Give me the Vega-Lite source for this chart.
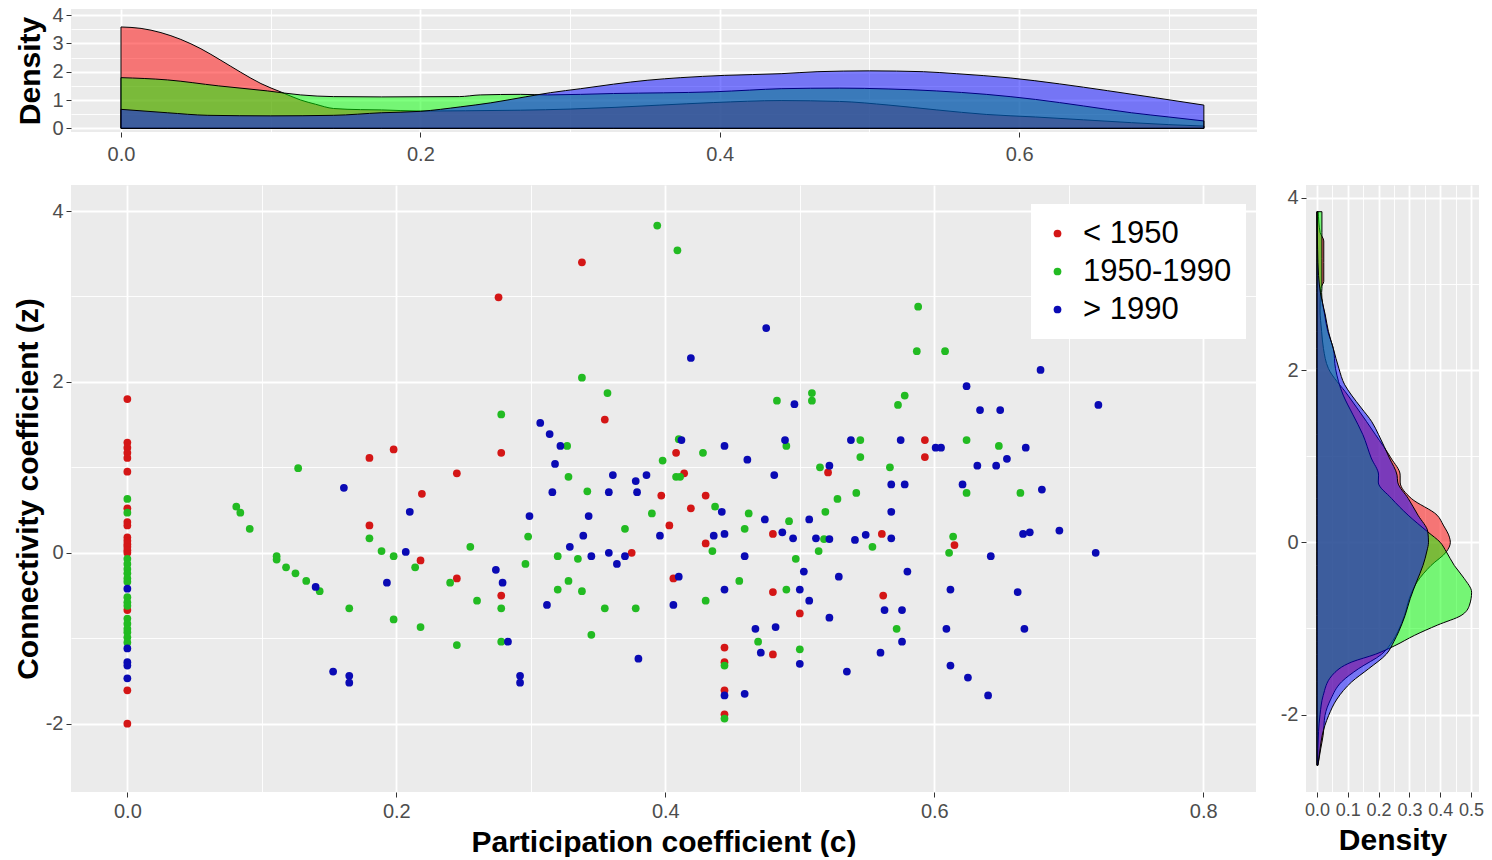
{
  "$schema": "https://vega.github.io/schema/vega-lite/v6.json",
  "background": "white",
  "padding": {"left": 13, "top": 5, "right": 5, "bottom": 0},
  "columns": 2,
  "spacing": {"row": 21, "column": 23},
  "config": {
    "font": "Liberation Sans",
    "view": {"fill": "#EBEBEB", "stroke": null},
    "axis": {
      "domain": false, "grid": true, "gridColor": "#FFFFFF",
      "tickColor": "#333333", "tickSize": 5, "tickWidth": 1,
      "labelColor": "#4D4D4D", "labelFontSize": 20, "labelFont": "Liberation Sans",
      "labelOverlap": false, "labelFlush": false,
      "titleFont": "Liberation Sans", "titleFontSize": 30, "titleFontWeight": "bold", "titleColor": "#000000"
    },
    "legend": {
      "orient": "none", "legendX": 960, "legendY": 195,
      "fillColor": "#FFFFFF", "padding": 14,
      "labelFontSize": 31, "labelColor": "#000000", "labelFont": "Liberation Sans",
      "symbolType": "circle", "symbolSize": 60, "symbolStrokeWidth": 0,
      "rowPadding": 6, "labelOffset": 10, "symbolOffset": -3
    }
  },
  "datasets": {
    "pts": [
      {"p":0,"z":1.80,"g":"< 1950"},{"p":0,"z":1.29,"g":"< 1950"},{"p":0,"z":1.23,"g":"< 1950"},{"p":0,"z":1.17,"g":"< 1950"},{"p":0,"z":1.11,"g":"< 1950"},{"p":0,"z":0.95,"g":"< 1950"},{"p":0,"z":0.52,"g":"< 1950"},{"p":0,"z":0.36,"g":"< 1950"},{"p":0,"z":0.32,"g":"< 1950"},{"p":0,"z":0.18,"g":"< 1950"},{"p":0,"z":0.14,"g":"< 1950"},{"p":0,"z":0.10,"g":"< 1950"},{"p":0,"z":0.07,"g":"< 1950"},{"p":0,"z":0.03,"g":"< 1950"},{"p":0,"z":0.00,"g":"< 1950"},{"p":0,"z":-0.67,"g":"< 1950"},{"p":0,"z":-1.61,"g":"< 1950"},{"p":0,"z":-2.00,"g":"< 1950"},
      {"p":0.180,"z":1.11,"g":"< 1950"},{"p":0.198,"z":1.21,"g":"< 1950"},{"p":0.180,"z":0.32,"g":"< 1950"},{"p":0.219,"z":0.69,"g":"< 1950"},{"p":0.218,"z":-0.09,"g":"< 1950"},{"p":0.338,"z":3.40,"g":"< 1950"},{"p":0.276,"z":2.99,"g":"< 1950"},{"p":0.355,"z":1.56,"g":"< 1950"},{"p":0.278,"z":1.17,"g":"< 1950"},{"p":0.245,"z":0.93,"g":"< 1950"},{"p":0.408,"z":1.17,"g":"< 1950"},{"p":0.414,"z":0.93,"g":"< 1950"},{"p":0.397,"z":0.67,"g":"< 1950"},{"p":0.430,"z":0.67,"g":"< 1950"},{"p":0.419,"z":0.52,"g":"< 1950"},{"p":0.403,"z":0.32,"g":"< 1950"},{"p":0.480,"z":0.22,"g":"< 1950"},{"p":0.430,"z":0.11,"g":"< 1950"},{"p":0.375,"z":0.00,"g":"< 1950"},{"p":0.278,"z":-0.50,"g":"< 1950"},{"p":0.245,"z":-0.30,"g":"< 1950"},{"p":0.406,"z":-0.30,"g":"< 1950"},{"p":0.480,"z":-0.46,"g":"< 1950"},{"p":0.500,"z":-0.71,"g":"< 1950"},{"p":0.480,"z":-1.19,"g":"< 1950"},{"p":0.444,"z":-1.11,"g":"< 1950"},{"p":0.444,"z":-1.28,"g":"< 1950"},{"p":0.444,"z":-1.61,"g":"< 1950"},{"p":0.444,"z":-1.89,"g":"< 1950"},{"p":0.593,"z":1.32,"g":"< 1950"},{"p":0.593,"z":1.12,"g":"< 1950"},{"p":0.521,"z":0.94,"g":"< 1950"},{"p":0.561,"z":0.22,"g":"< 1950"},{"p":0.615,"z":0.09,"g":"< 1950"},{"p":0.562,"z":-0.50,"g":"< 1950"},
      {"p":0,"z":0.63,"g":"1950-1990"},{"p":0,"z":0.47,"g":"1950-1990"},{"p":0,"z":-0.07,"g":"1950-1990"},{"p":0,"z":-0.13,"g":"1950-1990"},{"p":0,"z":-0.19,"g":"1950-1990"},{"p":0,"z":-0.24,"g":"1950-1990"},{"p":0,"z":-0.30,"g":"1950-1990"},{"p":0,"z":-0.34,"g":"1950-1990"},{"p":0,"z":-0.52,"g":"1950-1990"},{"p":0,"z":-0.58,"g":"1950-1990"},{"p":0,"z":-0.62,"g":"1950-1990"},{"p":0,"z":-0.77,"g":"1950-1990"},{"p":0,"z":-0.83,"g":"1950-1990"},{"p":0,"z":-0.89,"g":"1950-1990"},{"p":0,"z":-0.93,"g":"1950-1990"},{"p":0,"z":-0.99,"g":"1950-1990"},{"p":0,"z":-1.05,"g":"1950-1990"},
      {"p":0.081,"z":0.54,"g":"1950-1990"},{"p":0.084,"z":0.47,"g":"1950-1990"},{"p":0.091,"z":0.28,"g":"1950-1990"},{"p":0.127,"z":0.99,"g":"1950-1990"},{"p":0.180,"z":0.17,"g":"1950-1990"},{"p":0.189,"z":0.02,"g":"1950-1990"},{"p":0.198,"z":-0.04,"g":"1950-1990"},{"p":0.111,"z":-0.04,"g":"1950-1990"},{"p":0.111,"z":-0.08,"g":"1950-1990"},{"p":0.118,"z":-0.17,"g":"1950-1990"},{"p":0.125,"z":-0.24,"g":"1950-1990"},{"p":0.133,"z":-0.33,"g":"1950-1990"},{"p":0.143,"z":-0.45,"g":"1950-1990"},{"p":0.165,"z":-0.65,"g":"1950-1990"},{"p":0.198,"z":-0.78,"g":"1950-1990"},{"p":0.218,"z":-0.87,"g":"1950-1990"},{"p":0.214,"z":-0.17,"g":"1950-1990"},
      {"p":0.394,"z":3.83,"g":"1950-1990"},{"p":0.409,"z":3.54,"g":"1950-1990"},{"p":0.338,"z":2.05,"g":"1950-1990"},{"p":0.357,"z":1.87,"g":"1950-1990"},{"p":0.483,"z":1.78,"g":"1950-1990"},{"p":0.509,"z":1.87,"g":"1950-1990"},{"p":0.509,"z":1.78,"g":"1950-1990"},{"p":0.278,"z":1.62,"g":"1950-1990"},{"p":0.327,"z":1.25,"g":"1950-1990"},{"p":0.410,"z":1.33,"g":"1950-1990"},{"p":0.428,"z":1.17,"g":"1950-1990"},{"p":0.490,"z":1.25,"g":"1950-1990"},{"p":0.515,"z":1.00,"g":"1950-1990"},{"p":0.398,"z":1.08,"g":"1950-1990"},{"p":0.408,"z":0.89,"g":"1950-1990"},{"p":0.411,"z":0.89,"g":"1950-1990"},{"p":0.328,"z":0.89,"g":"1950-1990"},{"p":0.342,"z":0.72,"g":"1950-1990"},{"p":0.437,"z":0.54,"g":"1950-1990"},{"p":0.390,"z":0.46,"g":"1950-1990"},{"p":0.462,"z":0.46,"g":"1950-1990"},{"p":0.492,"z":0.37,"g":"1950-1990"},{"p":0.459,"z":0.28,"g":"1950-1990"},{"p":0.435,"z":0.02,"g":"1950-1990"},{"p":0.497,"z":-0.07,"g":"1950-1990"},{"p":0.514,"z":0.02,"g":"1950-1990"},{"p":0.370,"z":0.28,"g":"1950-1990"},{"p":0.298,"z":0.19,"g":"1950-1990"},{"p":0.255,"z":0.07,"g":"1950-1990"},{"p":0.296,"z":-0.13,"g":"1950-1990"},{"p":0.320,"z":-0.04,"g":"1950-1990"},{"p":0.335,"z":-0.07,"g":"1950-1990"},
      {"p":0.278,"z":-0.65,"g":"1950-1990"},{"p":0.240,"z":-0.35,"g":"1950-1990"},{"p":0.260,"z":-0.56,"g":"1950-1990"},{"p":0.245,"z":-1.08,"g":"1950-1990"},{"p":0.278,"z":-1.04,"g":"1950-1990"},{"p":0.320,"z":-0.43,"g":"1950-1990"},{"p":0.328,"z":-0.33,"g":"1950-1990"},{"p":0.338,"z":-0.45,"g":"1950-1990"},{"p":0.355,"z":-0.65,"g":"1950-1990"},{"p":0.378,"z":-0.65,"g":"1950-1990"},{"p":0.345,"z":-0.96,"g":"1950-1990"},{"p":0.430,"z":-0.56,"g":"1950-1990"},{"p":0.455,"z":-0.33,"g":"1950-1990"},{"p":0.490,"z":-0.43,"g":"1950-1990"},{"p":0.469,"z":-1.04,"g":"1950-1990"},{"p":0.500,"z":-1.13,"g":"1950-1990"},{"p":0.444,"z":-1.32,"g":"1950-1990"},{"p":0.444,"z":-1.94,"g":"1950-1990"},
      {"p":0.588,"z":2.88,"g":"1950-1990"},{"p":0.587,"z":2.36,"g":"1950-1990"},{"p":0.608,"z":2.36,"g":"1950-1990"},{"p":0.578,"z":1.84,"g":"1950-1990"},{"p":0.573,"z":1.73,"g":"1950-1990"},{"p":0.545,"z":1.32,"g":"1950-1990"},{"p":0.624,"z":1.32,"g":"1950-1990"},{"p":0.648,"z":1.25,"g":"1950-1990"},{"p":0.545,"z":1.12,"g":"1950-1990"},{"p":0.567,"z":1.00,"g":"1950-1990"},{"p":0.624,"z":0.70,"g":"1950-1990"},{"p":0.542,"z":0.70,"g":"1950-1990"},{"p":0.664,"z":0.70,"g":"1950-1990"},{"p":0.528,"z":0.63,"g":"1950-1990"},{"p":0.519,"z":0.48,"g":"1950-1990"},{"p":0.518,"z":0.16,"g":"1950-1990"},{"p":0.554,"z":0.07,"g":"1950-1990"},{"p":0.614,"z":0.19,"g":"1950-1990"},{"p":0.611,"z":0.00,"g":"1950-1990"},{"p":0.572,"z":-0.89,"g":"1950-1990"},
      {"p":0,"z":-0.42,"g":"> 1990"},{"p":0,"z":-1.12,"g":"> 1990"},{"p":0,"z":-1.28,"g":"> 1990"},{"p":0,"z":-1.32,"g":"> 1990"},{"p":0,"z":-1.47,"g":"> 1990"},
      {"p":0.161,"z":0.76,"g":"> 1990"},{"p":0.210,"z":0.48,"g":"> 1990"},{"p":0.207,"z":0.01,"g":"> 1990"},{"p":0.140,"z":-0.40,"g":"> 1990"},{"p":0.153,"z":-1.39,"g":"> 1990"},{"p":0.165,"z":-1.44,"g":"> 1990"},{"p":0.165,"z":-1.52,"g":"> 1990"},{"p":0.193,"z":-0.35,"g":"> 1990"},
      {"p":0.475,"z":2.63,"g":"> 1990"},{"p":0.419,"z":2.28,"g":"> 1990"},{"p":0.496,"z":1.74,"g":"> 1990"},{"p":0.307,"z":1.52,"g":"> 1990"},{"p":0.314,"z":1.39,"g":"> 1990"},{"p":0.322,"z":1.25,"g":"> 1990"},{"p":0.318,"z":1.04,"g":"> 1990"},{"p":0.412,"z":1.32,"g":"> 1990"},{"p":0.444,"z":1.25,"g":"> 1990"},{"p":0.461,"z":1.09,"g":"> 1990"},{"p":0.489,"z":1.32,"g":"> 1990"},{"p":0.481,"z":0.91,"g":"> 1990"},{"p":0.361,"z":0.91,"g":"> 1990"},{"p":0.378,"z":0.84,"g":"> 1990"},{"p":0.386,"z":0.91,"g":"> 1990"},{"p":0.379,"z":0.71,"g":"> 1990"},{"p":0.358,"z":0.71,"g":"> 1990"},{"p":0.316,"z":0.71,"g":"> 1990"},{"p":0.442,"z":0.48,"g":"> 1990"},{"p":0.299,"z":0.43,"g":"> 1990"},{"p":0.343,"z":0.43,"g":"> 1990"},{"p":0.474,"z":0.39,"g":"> 1990"},{"p":0.507,"z":0.39,"g":"> 1990"},{"p":0.487,"z":0.24,"g":"> 1990"},{"p":0.495,"z":0.17,"g":"> 1990"},{"p":0.512,"z":0.17,"g":"> 1990"},{"p":0.436,"z":0.20,"g":"> 1990"},{"p":0.444,"z":0.22,"g":"> 1990"},{"p":0.459,"z":-0.04,"g":"> 1990"},{"p":0.503,"z":-0.22,"g":"> 1990"},{"p":0.396,"z":0.20,"g":"> 1990"},{"p":0.339,"z":0.20,"g":"> 1990"},{"p":0.274,"z":-0.20,"g":"> 1990"},{"p":0.329,"z":0.07,"g":"> 1990"},{"p":0.345,"z":-0.04,"g":"> 1990"},{"p":0.358,"z":0.00,"g":"> 1990"},{"p":0.364,"z":-0.13,"g":"> 1990"},{"p":0.370,"z":-0.04,"g":"> 1990"},
      {"p":0.279,"z":-0.35,"g":"> 1990"},{"p":0.283,"z":-1.04,"g":"> 1990"},{"p":0.292,"z":-1.44,"g":"> 1990"},{"p":0.292,"z":-1.52,"g":"> 1990"},{"p":0.312,"z":-0.61,"g":"> 1990"},{"p":0.380,"z":-1.24,"g":"> 1990"},{"p":0.410,"z":-0.28,"g":"> 1990"},{"p":0.406,"z":-0.61,"g":"> 1990"},{"p":0.444,"z":-0.43,"g":"> 1990"},{"p":0.500,"z":-0.43,"g":"> 1990"},{"p":0.507,"z":-0.56,"g":"> 1990"},{"p":0.467,"z":-0.89,"g":"> 1990"},{"p":0.482,"z":-0.87,"g":"> 1990"},{"p":0.471,"z":-1.17,"g":"> 1990"},{"p":0.500,"z":-1.30,"g":"> 1990"},{"p":0.444,"z":-1.67,"g":"> 1990"},{"p":0.459,"z":-1.65,"g":"> 1990"},
      {"p":0.679,"z":2.14,"g":"> 1990"},{"p":0.624,"z":1.95,"g":"> 1990"},{"p":0.634,"z":1.67,"g":"> 1990"},{"p":0.649,"z":1.67,"g":"> 1990"},{"p":0.722,"z":1.73,"g":"> 1990"},{"p":0.538,"z":1.32,"g":"> 1990"},{"p":0.575,"z":1.32,"g":"> 1990"},{"p":0.601,"z":1.23,"g":"> 1990"},{"p":0.605,"z":1.23,"g":"> 1990"},{"p":0.668,"z":1.23,"g":"> 1990"},{"p":0.632,"z":1.02,"g":"> 1990"},{"p":0.646,"z":1.02,"g":"> 1990"},{"p":0.654,"z":1.10,"g":"> 1990"},{"p":0.522,"z":1.02,"g":"> 1990"},{"p":0.568,"z":0.80,"g":"> 1990"},{"p":0.578,"z":0.80,"g":"> 1990"},{"p":0.621,"z":0.80,"g":"> 1990"},{"p":0.680,"z":0.74,"g":"> 1990"},{"p":0.568,"z":0.48,"g":"> 1990"},{"p":0.522,"z":0.16,"g":"> 1990"},{"p":0.541,"z":0.15,"g":"> 1990"},{"p":0.549,"z":0.21,"g":"> 1990"},{"p":0.568,"z":0.17,"g":"> 1990"},{"p":0.642,"z":-0.04,"g":"> 1990"},{"p":0.666,"z":0.22,"g":"> 1990"},{"p":0.671,"z":0.24,"g":"> 1990"},{"p":0.693,"z":0.26,"g":"> 1990"},{"p":0.720,"z":0.00,"g":"> 1990"},
      {"p":0.529,"z":-0.28,"g":"> 1990"},{"p":0.580,"z":-0.22,"g":"> 1990"},{"p":0.522,"z":-0.76,"g":"> 1990"},{"p":0.563,"z":-0.67,"g":"> 1990"},{"p":0.576,"z":-0.67,"g":"> 1990"},{"p":0.576,"z":-1.04,"g":"> 1990"},{"p":0.560,"z":-1.17,"g":"> 1990"},{"p":0.535,"z":-1.39,"g":"> 1990"},{"p":0.612,"z":-0.43,"g":"> 1990"},{"p":0.662,"z":-0.46,"g":"> 1990"},{"p":0.609,"z":-0.89,"g":"> 1990"},{"p":0.667,"z":-0.89,"g":"> 1990"},{"p":0.612,"z":-1.32,"g":"> 1990"},{"p":0.625,"z":-1.46,"g":"> 1990"},{"p":0.640,"z":-1.67,"g":"> 1990"}
    ],
    "topR": [
      {"c":0,"d":3.58},{"c":0.0134,"d":3.53},{"c":0.0267,"d":3.38},{"c":0.04,"d":3.14},{"c":0.0534,"d":2.81},{"c":0.0668,"d":2.40},{"c":0.08,"d":1.98},{"c":0.0935,"d":1.58},{"c":0.107,"d":1.28},{"c":0.12,"d":1.0},{"c":0.13,"d":0.85},{"c":0.142,"d":0.70},{"c":0.16,"d":0.66},{"c":0.174,"d":0.65},{"c":0.2,"d":0.61},{"c":0.23,"d":0.62},{"c":0.267,"d":0.64},{"c":0.3,"d":0.68},{"c":0.33,"d":0.74},{"c":0.36,"d":0.82},{"c":0.396,"d":0.91},{"c":0.441,"d":0.98},{"c":0.48,"d":0.95},{"c":0.513,"d":0.82},{"c":0.545,"d":0.65},{"c":0.578,"d":0.49},{"c":0.611,"d":0.40},{"c":0.643,"d":0.30},{"c":0.675,"d":0.20},{"c":0.70,"d":0.13},{"c":0.7234,"d":0.08}
    ],
    "topG": [
      {"c":0,"d":1.79},{"c":0.031,"d":1.71},{"c":0.065,"d":1.50},{"c":0.098,"d":1.32},{"c":0.12,"d":1.18},{"c":0.142,"d":1.12},{"c":0.174,"d":1.11},{"c":0.226,"d":1.12},{"c":0.24,"d":1.18},{"c":0.267,"d":1.20},{"c":0.285,"d":1.18},{"c":0.329,"d":1.23},{"c":0.396,"d":1.29},{"c":0.42,"d":1.35},{"c":0.441,"d":1.40},{"c":0.48,"d":1.42},{"c":0.513,"d":1.39},{"c":0.545,"d":1.32},{"c":0.578,"d":1.2},{"c":0.611,"d":1.02},{"c":0.643,"d":0.79},{"c":0.675,"d":0.55},{"c":0.70,"d":0.40},{"c":0.7234,"d":0.26}
    ],
    "topB": [
      {"c":0,"d":0.67},{"c":0.031,"d":0.55},{"c":0.058,"d":0.46},{"c":0.1,"d":0.44},{"c":0.142,"d":0.46},{"c":0.174,"d":0.55},{"c":0.2,"d":0.60},{"c":0.227,"d":0.76},{"c":0.247,"d":0.90},{"c":0.27,"d":1.11},{"c":0.287,"d":1.26},{"c":0.307,"d":1.40},{"c":0.329,"d":1.56},{"c":0.352,"d":1.70},{"c":0.374,"d":1.79},{"c":0.403,"d":1.87},{"c":0.441,"d":1.93},{"c":0.465,"d":2.0},{"c":0.5,"d":2.03},{"c":0.536,"d":2.0},{"c":0.558,"d":1.93},{"c":0.594,"d":1.78},{"c":0.627,"d":1.57},{"c":0.659,"d":1.33},{"c":0.691,"d":1.08},{"c":0.7234,"d":0.82}
    ],
    "rightR": [
      {"z":-2.59,"d":0.003},{"z":-2.4,"d":0.012},{"z":-2.24,"d":0.02},{"z":-2.01,"d":0.026},{"z":-1.82,"d":0.045},{"z":-1.62,"d":0.08},{"z":-1.47,"d":0.134},{"z":-1.30,"d":0.21},{"z":-1.15,"d":0.245},{"z":-1.04,"d":0.262},{"z":-0.85,"d":0.284},{"z":-0.65,"d":0.30},{"z":-0.46,"d":0.325},{"z":-0.27,"d":0.37},{"z":-0.11,"d":0.42},{"z":0,"d":0.433},{"z":0.06,"d":0.43},{"z":0.2,"d":0.41},{"z":0.315,"d":0.39},{"z":0.51,"d":0.306},{"z":0.7,"d":0.27},{"z":0.78,"d":0.27},{"z":0.98,"d":0.24},{"z":1.25,"d":0.19},{"z":1.56,"d":0.13},{"z":1.71,"d":0.10},{"z":2.02,"d":0.037},{"z":2.25,"d":0.021},{"z":2.45,"d":0.015},{"z":2.7,"d":0.01},{"z":2.95,"d":0.012},{"z":3.03,"d":0.022},{"z":3.25,"d":0.022},{"z":3.5,"d":0.022},{"z":3.6,"d":0.01},{"z":3.84,"d":0.004}
    ],
    "rightG": [
      {"z":-2.59,"d":0.002},{"z":-2.2,"d":0.005},{"z":-2.0,"d":0.01},{"z":-1.78,"d":0.02},{"z":-1.55,"d":0.048},{"z":-1.39,"d":0.113},{"z":-1.30,"d":0.19},{"z":-1.20,"d":0.253},{"z":-1.08,"d":0.317},{"z":-0.96,"d":0.392},{"z":-0.85,"d":0.468},{"z":-0.73,"d":0.495},{"z":-0.58,"d":0.502},{"z":-0.42,"d":0.478},{"z":-0.27,"d":0.446},{"z":-0.11,"d":0.42},{"z":0,"d":0.40},{"z":0.12,"d":0.36},{"z":0.315,"d":0.296},{"z":0.51,"d":0.242},{"z":0.7,"d":0.199},{"z":0.78,"d":0.20},{"z":0.98,"d":0.176},{"z":1.25,"d":0.149},{"z":1.48,"d":0.117},{"z":1.71,"d":0.085},{"z":2.02,"d":0.06},{"z":2.25,"d":0.053},{"z":2.45,"d":0.035},{"z":2.64,"d":0.025},{"z":2.9,"d":0.015},{"z":2.95,"d":0.016},{"z":3.3,"d":0.016},{"z":3.6,"d":0.016},{"z":3.84,"d":0.016}
    ],
    "rightB": [
      {"z":-2.59,"d":0.003},{"z":-2.4,"d":0.01},{"z":-2.24,"d":0.017},{"z":-2.01,"d":0.038},{"z":-1.82,"d":0.065},{"z":-1.62,"d":0.113},{"z":-1.47,"d":0.167},{"z":-1.30,"d":0.225},{"z":-1.15,"d":0.25},{"z":-1.04,"d":0.265},{"z":-0.85,"d":0.286},{"z":-0.65,"d":0.303},{"z":-0.46,"d":0.323},{"z":-0.27,"d":0.344},{"z":-0.1,"d":0.357},{"z":0,"d":0.362},{"z":0.12,"d":0.36},{"z":0.315,"d":0.328},{"z":0.51,"d":0.296},{"z":0.7,"d":0.262},{"z":0.78,"d":0.26},{"z":0.98,"d":0.235},{"z":1.25,"d":0.2},{"z":1.40,"d":0.178},{"z":1.56,"d":0.144},{"z":1.71,"d":0.112},{"z":1.83,"d":0.09},{"z":2.02,"d":0.071},{"z":2.25,"d":0.053},{"z":2.45,"d":0.037},{"z":2.64,"d":0.027},{"z":2.9,"d":0.011},{"z":3.1,"d":0.005},{"z":3.4,"d":0.002},{"z":3.84,"d":0.0}
    ],
    "blank": [{"a": 1}]
  },
  "concat": [
    {
      "width": 1186, "height": 123,
      "encoding": {
        "x": {"field": "c", "type": "quantitative",
          "scale": {"domain": [-0.0334, 0.7589], "nice": false, "zero": false},
          "axis": {"title": null, "values": [0, 0.1, 0.2, 0.3, 0.4, 0.5, 0.6, 0.7], "labelPadding": 7,
            "labelExpr": "indexof([0,0.2,0.4,0.6], datum.value) >= 0 ? format(datum.value, '.1f') : ''",
            "tickOpacity": {"condition": {"test": "indexof([0,0.2,0.4,0.6], datum.value) >= 0", "value": 1}, "value": 0},
            "gridWidth": {"condition": {"test": "indexof([0,0.2,0.4,0.6], datum.value) >= 0", "value": 1.8}, "value": 0.9}}},
        "y": {"field": "d", "type": "quantitative", "stack": null,
          "scale": {"domain": [-0.13, 4.215], "nice": false},
          "axis": {"title": "Density", "values": [0, 0.5, 1, 1.5, 2, 2.5, 3, 3.5, 4], "labelPadding": 3, "titlePadding": 6,
            "labelExpr": "indexof([0,1,2,3,4], datum.value) >= 0 ? '' + datum.value : ''",
            "tickOpacity": {"condition": {"test": "indexof([0,1,2,3,4], datum.value) >= 0", "value": 1}, "value": 0},
            "gridWidth": {"condition": {"test": "indexof([0,1,2,3,4], datum.value) >= 0", "value": 1.8}, "value": 0.9}}}
      },
      "layer": [
        {"data": {"name": "topR"}, "mark": {"type": "area", "interpolate": "monotone", "fill": "#FF0000", "fillOpacity": 0.5, "stroke": "#000000", "strokeWidth": 1}},
        {"data": {"name": "topG"}, "mark": {"type": "area", "interpolate": "monotone", "fill": "#00FF00", "fillOpacity": 0.5, "stroke": "#000000", "strokeWidth": 1}},
        {"data": {"name": "topB"}, "mark": {"type": "area", "interpolate": "monotone", "fill": "#0000FF", "fillOpacity": 0.5, "stroke": "#000000", "strokeWidth": 1}}
      ]
    },
    {
      "width": 10, "height": 10,
      "view": {"fill": "#FFFFFF", "stroke": null},
      "data": {"name": "blank"},
      "mark": {"type": "point", "opacity": 0},
      "encoding": {}
    },
    {
      "width": 1185, "height": 607,
      "data": {"name": "pts"},
      "mark": {"type": "circle", "size": 60, "opacity": 1},
      "encoding": {
        "x": {"field": "p", "type": "quantitative",
          "scale": {"domain": [-0.0419, 0.8392], "nice": false, "zero": false},
          "axis": {"title": "Participation coefficient (c)", "values": [0, 0.1, 0.2, 0.3, 0.4, 0.5, 0.6, 0.7, 0.8], "labelPadding": 4, "titlePadding": 6,
            "labelExpr": "indexof([0,0.2,0.4,0.6,0.8], datum.value) >= 0 ? format(datum.value, '.1f') : ''",
            "tickOpacity": {"condition": {"test": "indexof([0,0.2,0.4,0.6,0.8], datum.value) >= 0", "value": 1}, "value": 0},
            "gridWidth": {"condition": {"test": "indexof([0,0.2,0.4,0.6,0.8], datum.value) >= 0", "value": 1.8}, "value": 0.9}}},
        "y": {"field": "z", "type": "quantitative",
          "scale": {"domain": [-2.80, 4.305], "nice": false, "zero": false},
          "axis": {"title": "Connectivity coefficient (z)", "values": [-2, -1, 0, 1, 2, 3, 4], "labelPadding": 3, "titlePadding": 2,
            "labelExpr": "indexof([-2,0,2,4], datum.value) >= 0 ? '' + datum.value : ''",
            "tickOpacity": {"condition": {"test": "indexof([-2,0,2,4], datum.value) >= 0", "value": 1}, "value": 0},
            "gridWidth": {"condition": {"test": "indexof([-2,0,2,4], datum.value) >= 0", "value": 1.8}, "value": 0.9}}},
        "color": {"field": "g", "type": "nominal",
          "scale": {"domain": ["< 1950", "1950-1990", "> 1990"], "range": ["#D41616", "#22BB22", "#0A0AB4"]},
          "legend": {"title": null}}
      }
    },
    {
      "width": 173, "height": 607,
      "encoding": {
        "x": {"field": "d", "type": "quantitative", "stack": null,
          "scale": {"domain": [-0.0357, 0.526], "nice": false},
          "axis": {"title": "Density", "values": [0, 0.05, 0.1, 0.15, 0.2, 0.25, 0.3, 0.35, 0.4, 0.45, 0.5], "labelPadding": 4, "titlePadding": 6, "labelFontSize": 18,
            "labelExpr": "indexof([0,0.1,0.2,0.3,0.4,0.5], datum.value) >= 0 ? format(datum.value, '.1f') : ''",
            "tickOpacity": {"condition": {"test": "indexof([0,0.1,0.2,0.3,0.4,0.5], datum.value) >= 0", "value": 1}, "value": 0},
            "gridWidth": {"condition": {"test": "indexof([0,0.1,0.2,0.3,0.4,0.5], datum.value) >= 0", "value": 1.8}, "value": 0.9}}},
        "y": {"field": "z", "type": "quantitative",
          "scale": {"domain": [-2.90, 4.15], "nice": false, "zero": false},
          "axis": {"title": null, "values": [-2, -1, 0, 1, 2, 3, 4], "labelPadding": 3,
            "labelExpr": "indexof([-2,0,2,4], datum.value) >= 0 ? '' + datum.value : ''",
            "tickOpacity": {"condition": {"test": "indexof([-2,0,2,4], datum.value) >= 0", "value": 1}, "value": 0},
            "gridWidth": {"condition": {"test": "indexof([-2,0,2,4], datum.value) >= 0", "value": 1.8}, "value": 0.9}}}
      },
      "layer": [
        {"data": {"name": "rightR"}, "mark": {"type": "area", "orient": "horizontal", "interpolate": "monotone", "fill": "#FF0000", "fillOpacity": 0.5, "stroke": "#000000", "strokeWidth": 1}},
        {"data": {"name": "rightG"}, "mark": {"type": "area", "orient": "horizontal", "interpolate": "monotone", "fill": "#00FF00", "fillOpacity": 0.5, "stroke": "#000000", "strokeWidth": 1}},
        {"data": {"name": "rightB"}, "mark": {"type": "area", "orient": "horizontal", "interpolate": "monotone", "fill": "#0000FF", "fillOpacity": 0.5, "stroke": "#000000", "strokeWidth": 1}}
      ]
    }
  ]
}
